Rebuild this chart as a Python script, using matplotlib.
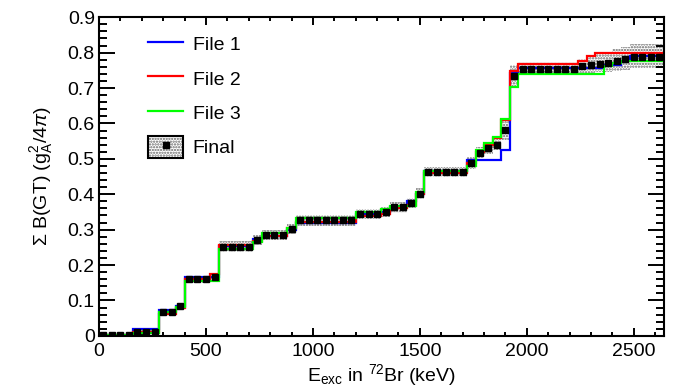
import numpy as np
import matplotlib
matplotlib.use("Agg")
import matplotlib.pyplot as plt
from matplotlib.lines import Line2D
from matplotlib.patches import Rectangle
from matplotlib.ticker import MultipleLocator, FuncFormatter

plt.rcParams['font.family'] = ['Liberation Sans', 'DejaVu Sans']
plt.rcParams['mathtext.fontset'] = 'custom'
plt.rcParams['mathtext.rm'] = 'Liberation Sans'
plt.rcParams['mathtext.it'] = 'Liberation Sans:italic'
plt.rcParams['hatch.linewidth'] = 1.1

# 40 keV bins from 0 to 2640 keV
bin_width = 40
edges = np.arange(0, 2640 + bin_width, bin_width)

# cumulative B(GT) per bin
file1 = [0.003, 0.003, 0.003, 0.003, 0.018, 0.018, 0.018, 0.073, 0.073, 0.085,
         0.165, 0.165, 0.165, 0.165, 0.254, 0.254, 0.254, 0.254, 0.273, 0.283,
         0.283, 0.283, 0.300, 0.318, 0.318, 0.318, 0.318, 0.318, 0.318, 0.318,
         0.345, 0.345, 0.345, 0.350, 0.365, 0.365, 0.380, 0.400, 0.467, 0.467,
         0.467, 0.467, 0.467, 0.498, 0.498, 0.498, 0.498, 0.526, 0.742, 0.756,
         0.756, 0.756, 0.756, 0.756, 0.756, 0.756, 0.756, 0.756, 0.756, 0.765,
         0.765, 0.775, 0.790, 0.790, 0.790, 0.790]
file2 = [0.002, 0.002, 0.002, 0.002, 0.010, 0.010, 0.010, 0.062, 0.062, 0.080,
         0.160, 0.160, 0.160, 0.174, 0.256, 0.256, 0.256, 0.256, 0.268, 0.283,
         0.283, 0.283, 0.305, 0.322, 0.322, 0.322, 0.322, 0.322, 0.322, 0.322,
         0.338, 0.338, 0.338, 0.345, 0.360, 0.360, 0.370, 0.400, 0.460, 0.460,
         0.460, 0.460, 0.460, 0.488, 0.520, 0.540, 0.559, 0.610, 0.749, 0.768,
         0.768, 0.768, 0.768, 0.768, 0.768, 0.768, 0.777, 0.790, 0.800, 0.800,
         0.800, 0.800, 0.800, 0.800, 0.800, 0.800]
file3 = [0.002, 0.002, 0.002, 0.002, 0.008, 0.008, 0.008, 0.067, 0.067, 0.082,
         0.154, 0.154, 0.154, 0.154, 0.245, 0.245, 0.245, 0.245, 0.264, 0.290,
         0.290, 0.290, 0.305, 0.334, 0.334, 0.334, 0.334, 0.334, 0.334, 0.334,
         0.350, 0.350, 0.350, 0.359, 0.367, 0.367, 0.367, 0.406, 0.465, 0.465,
         0.465, 0.465, 0.465, 0.479, 0.526, 0.546, 0.563, 0.612, 0.704, 0.740,
         0.740, 0.740, 0.740, 0.740, 0.740, 0.740, 0.740, 0.740, 0.740, 0.762,
         0.770, 0.777, 0.777, 0.777, 0.777, 0.777]
final = [0.002, 0.002, 0.002, 0.002, 0.012, 0.012, 0.012, 0.068, 0.068, 0.083,
         0.160, 0.160, 0.160, 0.165, 0.252, 0.252, 0.252, 0.252, 0.270, 0.285,
         0.285, 0.285, 0.303, 0.327, 0.327, 0.327, 0.327, 0.327, 0.327, 0.327,
         0.344, 0.344, 0.344, 0.350, 0.363, 0.363, 0.375, 0.402, 0.463, 0.463,
         0.463, 0.463, 0.463, 0.488, 0.517, 0.531, 0.540, 0.582, 0.735, 0.755,
         0.755, 0.755, 0.755, 0.755, 0.755, 0.755, 0.761, 0.765, 0.768, 0.772,
         0.777, 0.782, 0.787, 0.787, 0.787, 0.787]
final_err_lo = [0.003, 0.003, 0.003, 0.003, 0.005, 0.005, 0.005, 0.006, 0.006, 0.008,
                0.010, 0.010, 0.010, 0.012, 0.016, 0.016, 0.016, 0.016, 0.014, 0.014,
                0.014, 0.014, 0.014, 0.016, 0.016, 0.016, 0.016, 0.016, 0.016, 0.016,
                0.015, 0.015, 0.015, 0.015, 0.015, 0.015, 0.015, 0.015, 0.014, 0.014,
                0.014, 0.014, 0.014, 0.016, 0.016, 0.016, 0.016, 0.030, 0.030, 0.018,
                0.018, 0.018, 0.018, 0.018, 0.018, 0.018, 0.020, 0.022, 0.024, 0.026,
                0.028, 0.030, 0.030, 0.030, 0.030, 0.030]
final_err_hi = [0.003, 0.003, 0.003, 0.003, 0.005, 0.005, 0.005, 0.006, 0.006, 0.008,
                0.010, 0.010, 0.010, 0.012, 0.016, 0.016, 0.016, 0.016, 0.014, 0.014,
                0.014, 0.014, 0.014, 0.014, 0.014, 0.014, 0.014, 0.014, 0.014, 0.014,
                0.015, 0.015, 0.015, 0.015, 0.015, 0.015, 0.015, 0.015, 0.014, 0.014,
                0.014, 0.014, 0.014, 0.016, 0.016, 0.016, 0.016, 0.030, 0.030, 0.018,
                0.018, 0.018, 0.018, 0.018, 0.018, 0.018, 0.020, 0.025, 0.028, 0.030,
                0.032, 0.035, 0.038, 0.038, 0.038, 0.038]

labels = ["File 1", "File 2", "File 3", "Final"]
colors = ["#0000ff", "#ff0000", "#00ff00"]

fig = plt.figure(figsize=(6.78, 3.91), dpi=100)
ax = fig.add_axes([0.146, 0.141, 0.833, 0.815])

final = np.array(final)
lo = final - np.array(final_err_lo)
hi = final + np.array(final_err_hi)
ax.fill_between(edges, np.append(lo, lo[-1]), np.append(hi, hi[-1]), step='post',
                facecolor='none', edgecolor='#666666', hatch='......', linewidth=0,
                zorder=1)

for vals, c in zip([file1, file2, file3], colors):
    ax.stairs(vals, edges, baseline=None, color=c, linewidth=1.6, zorder=2)

centers = 0.5 * (edges[:-1] + edges[1:])
ax.plot(centers, final, linestyle='none', marker='s', markersize=3.8,
        color='black', zorder=3)

ax.set_xlim(0, 2640)
ax.set_ylim(0, 0.9)
ax.xaxis.set_major_locator(MultipleLocator(500))
ax.xaxis.set_minor_locator(MultipleLocator(100))
ax.yaxis.set_major_locator(MultipleLocator(0.1))
ax.yaxis.set_minor_locator(MultipleLocator(0.02))
ax.yaxis.set_major_formatter(FuncFormatter(lambda v, p: '0' if abs(v) < 1e-9 else f'{v:.1f}'))

ax.tick_params(axis='both', which='both', direction='in', top=True, right=True,
               labelsize=14, width=1.4)
ax.tick_params(axis='y', which='major', length=11.5, pad=3)
ax.tick_params(axis='y', which='minor', length=6)
ax.tick_params(axis='x', which='major', length=6, pad=5)
ax.tick_params(axis='x', which='minor', length=3)
for sp in ax.spines.values():
    sp.set_linewidth(1.5)

ax.set_xlabel(r'E$_{\rm exc}$ in $^{72}$Br (keV)', fontsize=14, labelpad=2)
ax.set_ylabel(r'$\Sigma$ B(GT) (g$_{\rm A}^{2}$/4$\pi$)', fontsize=14, labelpad=9)

handles = [Line2D([], [], color=c, linewidth=1.6) for c in colors]
band_h = Rectangle((0, 0), 1, 1, facecolor='white', edgecolor='#666666',
                   hatch='......', linewidth=0)
box_h = Rectangle((0, 0), 1, 1, facecolor='none', edgecolor='black', linewidth=1.5)
mark_h = Line2D([], [], linestyle='none', marker='s', markersize=3.8, color='black')
handles.append((band_h, box_h, mark_h))

ax.legend(handles, labels, loc='upper left', bbox_to_anchor=(0.087, 0.95),
          frameon=False, fontsize=14, borderpad=0, borderaxespad=0,
          handlelength=1.8, handleheight=1.3, handletextpad=0.5,
          labelspacing=0.68)

fig.savefig("out.png", dpi=100)
